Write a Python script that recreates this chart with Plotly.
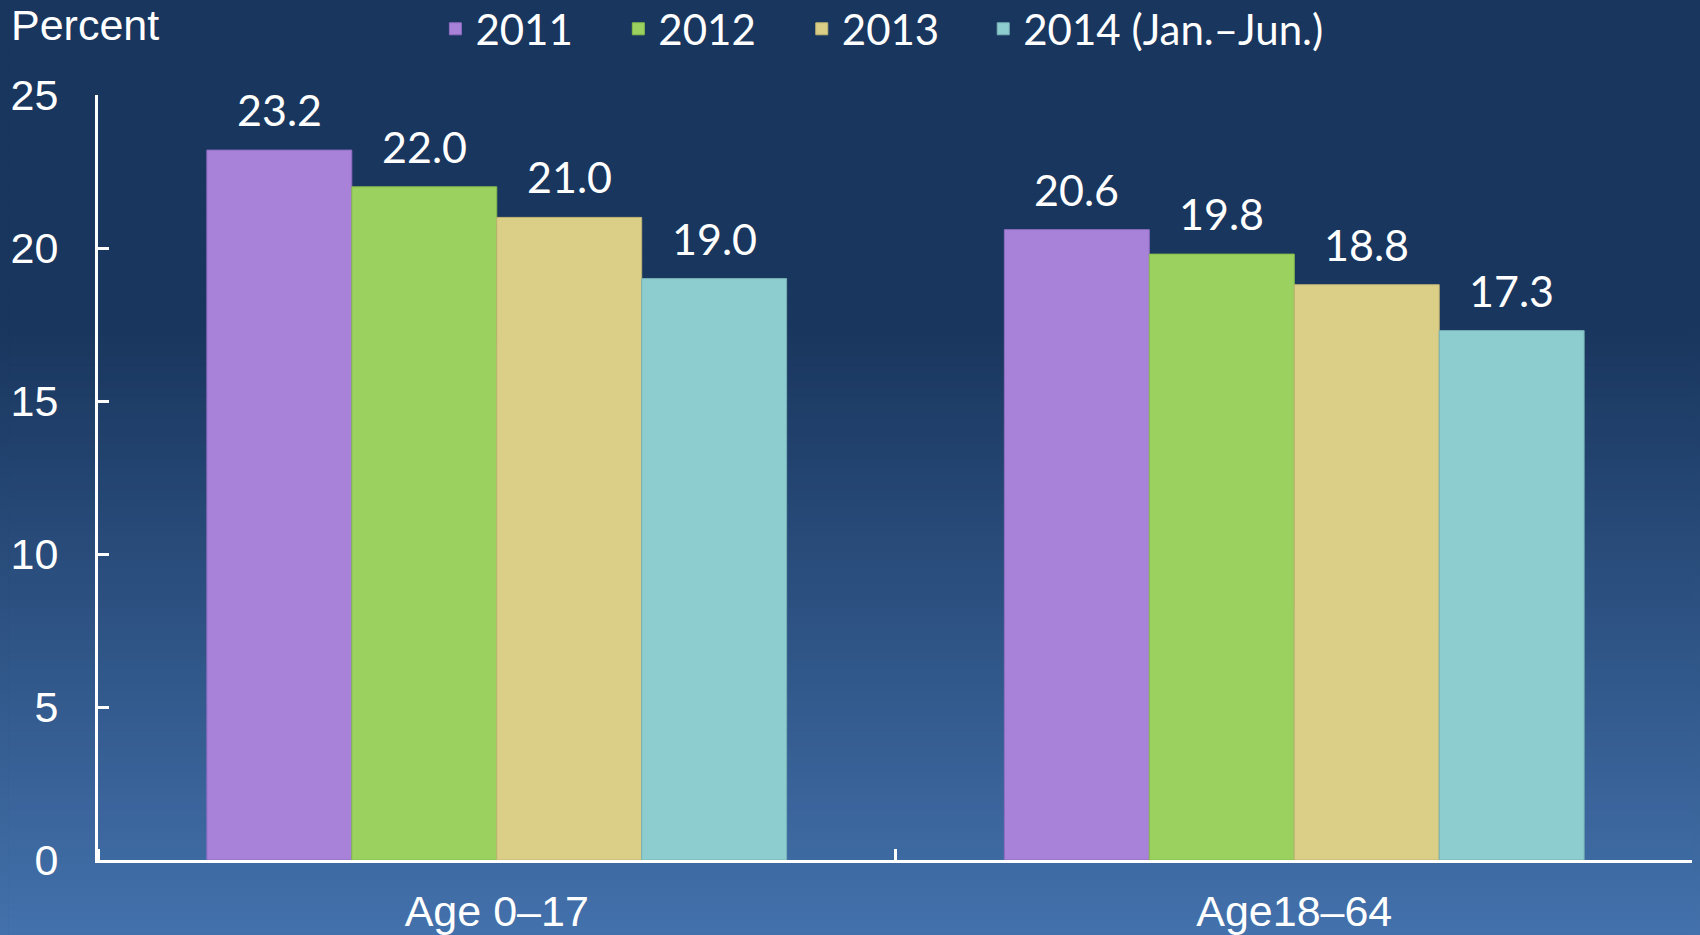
import plotly.graph_objects as go

# ---- data ----
categories = ["Age 0–17", "Age18–64"]
series_names = ["2011", "2012", "2013", "2014 (Jan.–Jun.)"]
values_2011 = [23.2, 20.6]
values_2012 = [22.0, 19.8]
values_2013 = [21.0, 18.8]
values_2014 = [19.0, 17.3]
y_tick_values = [0, 5, 10, 15, 20, 25]
y_axis_title = "Percent"

# ---- style ----
W, H = 1700, 935
L, R, T, B = 90, 14.5, 87, 83
PW, PH = W - L - R, H - T - B
colors = ["#A881D9", "#9BD15E", "#DBCF88", "#8DCDD0"]
line_colors = ["#8F6DC2", "#86BC4C", "#BFB474", "#77B2B5"]
legend_x_px = [427.5, 610.5, 794, 975.5]   # legend item left positions (figure px)
ARIAL = "Liberation Sans, Arial, sans-serif"
CALIBRI = "Lato, Carlito, Calibri, sans-serif"
bargap = 0.273

series = [values_2011, values_2012, values_2013, values_2014]
n = len(series)
bw = (1 - bargap) / n

fig = go.Figure()
legend_layouts = {}
for j, (name, vals) in enumerate(zip(series_names, series)):
    lg = "legend" if j == 0 else f"legend{j + 1}"
    xs = [i + (j - (n - 1) / 2) * bw for i in range(len(categories))]
    fig.add_trace(go.Bar(
        x=xs, y=vals, width=bw, name=name, legend=lg,
        marker=dict(color=colors[j], line=dict(width=1, color=line_colors[j])),
        hoverinfo="y+name",
    ))
    legend_layouts[lg] = dict(
        orientation="h", x=(legend_x_px[j] - L) / PW, xanchor="left",
        y=1 + (T - 21) / PH, yanchor="middle",
        font=dict(family=CALIBRI, size=42, color="white"),
        bgcolor="rgba(0,0,0,0)",
    )
    for x, v in zip(xs, vals):
        fig.add_annotation(
            x=x, y=v, xref="x", yref="y", text=f"{v:.1f}", showarrow=False,
            yanchor="bottom", yshift=13,
            font=dict(family=CALIBRI, size=43, color="white"),
        )

# background gradient (dark navy on top, lighter blue toward the bottom)
top_rgb = (25, 54, 94)
bot_rgb = (67, 113, 171)
start_px = 322
end_px = 927
stripes = 120
x0p, x1p = -L / PW, 1 + R / PW
for k in range(stripes):
    py0 = H * k / stripes
    py1 = H * (k + 1) / stripes
    mid = (py0 + py1) / 2
    t = min(1.0, max(0.0, (mid - start_px) / (end_px - start_px)))
    c = tuple(round(a + t * (b - a)) for a, b in zip(top_rgb, bot_rgb))
    y_top = 1 + (T - py0) / PH
    y_bot = 1 + (T - py1) / PH
    fig.add_shape(type="rect", xref="paper", yref="paper",
                  x0=x0p, x1=x1p, y0=y_bot - 0.001, y1=y_top + 0.001,
                  fillcolor=f"rgb{c}", line=dict(width=0), layer="below")

fig.add_annotation(
    xref="paper", yref="paper", x=(1 - L) / PW, y=1 + (T - 17) / PH,
    xanchor="left", yanchor="middle", text=y_axis_title, showarrow=False,
    font=dict(family=ARIAL, size=43, color="white"),
)

fig.update_layout(
    width=W, height=H,
    margin=dict(l=L, r=R, t=T, b=B, autoexpand=False),
    paper_bgcolor="rgb(25,54,94)",
    plot_bgcolor="rgba(0,0,0,0)",
    barmode="overlay",
    showlegend=True,
    xaxis=dict(
        range=[-0.5, len(categories) - 0.5],
        tickmode="array", tickvals=list(range(len(categories))), ticktext=categories,
        ticks="", showgrid=False, zeroline=False,
        showline=True, linecolor="white", linewidth=3,
        tickfont=dict(family=ARIAL, size=43, color="white"),
        ticklabelstandoff=11,
        minor=dict(tickmode="array",
                   tickvals=[i - 0.5 for i in range(len(categories) + 1)],
                   ticks="inside", ticklen=11, tickwidth=3, tickcolor="white",
                   showgrid=False),
        fixedrange=True,
    ),
    yaxis=dict(
        range=[0, 25], tickmode="array", tickvals=y_tick_values,
        ticks="inside", ticklen=11, tickwidth=3, tickcolor="white",
        showgrid=False, zeroline=False,
        showline=True, linecolor="white", linewidth=3,
        tickfont=dict(family=ARIAL, size=43, color="white"),
        ticklabelstandoff=28,
        fixedrange=True,
    ),
    **legend_layouts,
)

# page background behind the figure's outer page margin, matching the gradient
page_bg_js = (
    "document.documentElement.style.background = "
    "'linear-gradient(to bottom, rgb(25,54,94) 0px, rgb(25,54,94) 330px, "
    "rgb(67,113,171) 935px)';"
)

fig.write_html("out.html", post_script=page_bg_js)
